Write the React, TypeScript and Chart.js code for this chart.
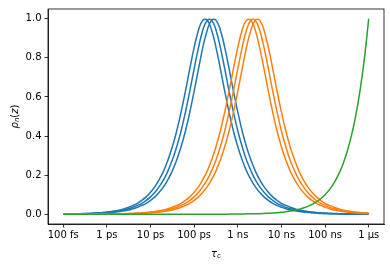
import React, { useEffect, useRef } from 'react';
import { Chart, registerables } from 'chart.js';

Chart.register(...registerables);

// correlation time grid (s), 10 points per decade from 100 fs to 1 µs
const tau = [
  1e-13, 1.26e-13, 1.58e-13, 2e-13, 2.51e-13, 3.16e-13, 3.98e-13, 5.01e-13, 6.31e-13, 7.94e-13,
  1e-12, 1.26e-12, 1.58e-12, 2e-12, 2.51e-12, 3.16e-12, 3.98e-12, 5.01e-12, 6.31e-12, 7.94e-12,
  1e-11, 1.26e-11, 1.58e-11, 2e-11, 2.51e-11, 3.16e-11, 3.98e-11, 5.01e-11, 6.31e-11, 7.94e-11,
  1e-10, 1.26e-10, 1.58e-10, 2e-10, 2.51e-10, 3.16e-10, 3.98e-10, 5.01e-10, 6.31e-10, 7.94e-10,
  1e-9, 1.26e-9, 1.58e-9, 2e-9, 2.51e-9, 3.16e-9, 3.98e-9, 5.01e-9, 6.31e-9, 7.94e-9,
  1e-8, 1.26e-8, 1.58e-8, 2e-8, 2.51e-8, 3.16e-8, 3.98e-8, 5.01e-8, 6.31e-8, 7.94e-8,
  1e-7, 1.26e-7, 1.58e-7, 2e-7, 2.51e-7, 3.16e-7, 3.98e-7, 5.01e-7, 6.31e-7, 7.94e-7,
  1e-6,
];

const blue1 = [
  0.001, 0.001, 0.002, 0.002, 0.003, 0.004, 0.004, 0.006, 0.007, 0.009, 0.011, 0.014, 0.018, 0.022, 0.028, 0.036, 0.045, 0.056, 0.071, 0.089, 0.112, 0.141, 0.177, 0.222, 0.277, 0.345, 0.426, 0.522, 0.63, 0.745, 0.854, 0.943, 0.993,
  0.993, 0.943, 0.854, 0.745, 0.63, 0.522, 0.426, 0.345, 0.277, 0.222, 0.177, 0.141, 0.112, 0.089, 0.071, 0.056, 0.045, 0.036, 0.028, 0.022, 0.018, 0.014, 0.011, 0.009, 0.007, 0.006, 0.004, 0.004, 0.003, 0.002, 0.002, 0.001, 0.001, 0.001, 0.001, 0.001, 0, 0,
];
const blue2 = [
  0.001, 0.001, 0.001, 0.002, 0.002, 0.003, 0.004, 0.004, 0.006, 0.007, 0.009, 0.011, 0.014, 0.018, 0.022, 0.028, 0.036, 0.045, 0.056, 0.071, 0.089, 0.112, 0.141, 0.177, 0.222, 0.277, 0.345, 0.426, 0.522, 0.63, 0.745, 0.854, 0.943, 0.993,
  0.993, 0.943, 0.854, 0.745, 0.63, 0.522, 0.426, 0.345, 0.277, 0.222, 0.177, 0.141, 0.112, 0.089, 0.071, 0.056, 0.045, 0.036, 0.028, 0.022, 0.018, 0.014, 0.011, 0.009, 0.007, 0.006, 0.004, 0.004, 0.003, 0.002, 0.002, 0.001, 0.001, 0.001, 0.001, 0.001, 0,
];
const blue3 = [
  0.001, 0.001, 0.001, 0.001, 0.002, 0.002, 0.003, 0.004, 0.004, 0.006, 0.007, 0.009, 0.011, 0.014, 0.018, 0.022, 0.028, 0.036, 0.045, 0.056, 0.071, 0.089, 0.112, 0.141, 0.177, 0.222, 0.277, 0.345, 0.426, 0.522, 0.63, 0.745, 0.854, 0.943, 0.993,
  0.993, 0.943, 0.854, 0.745, 0.63, 0.522, 0.426, 0.345, 0.277, 0.222, 0.177, 0.141, 0.112, 0.089, 0.071, 0.056, 0.045, 0.036, 0.028, 0.022, 0.018, 0.014, 0.011, 0.009, 0.007, 0.006, 0.004, 0.004, 0.003, 0.002, 0.002, 0.001, 0.001, 0.001, 0.001, 0.001,
];
const orange1 = [
  0, 0, 0, 0, 0, 0, 0, 0.001, 0.001, 0.001, 0.001, 0.001, 0.002, 0.002, 0.003, 0.004, 0.004, 0.006, 0.007, 0.009, 0.011, 0.014, 0.018, 0.022, 0.028, 0.036, 0.045, 0.056, 0.071, 0.089, 0.112, 0.141, 0.177, 0.222, 0.277, 0.345, 0.426, 0.522, 0.63, 0.745, 0.854, 0.943, 0.993,
  0.993, 0.943, 0.854, 0.745, 0.63, 0.522, 0.426, 0.345, 0.277, 0.222, 0.177, 0.141, 0.112, 0.089, 0.071, 0.056, 0.045, 0.036, 0.028, 0.022, 0.018, 0.014, 0.011, 0.009, 0.007, 0.006, 0.004, 0.004,
];
const orange2 = [
  0, 0, 0, 0, 0, 0, 0, 0, 0.001, 0.001, 0.001, 0.001, 0.001, 0.002, 0.002, 0.003, 0.004, 0.004, 0.006, 0.007, 0.009, 0.011, 0.014, 0.018, 0.022, 0.028, 0.036, 0.045, 0.056, 0.071, 0.089, 0.112, 0.141, 0.177, 0.222, 0.277, 0.345, 0.426, 0.522, 0.63, 0.745, 0.854, 0.943, 0.993,
  0.993, 0.943, 0.854, 0.745, 0.63, 0.522, 0.426, 0.345, 0.277, 0.222, 0.177, 0.141, 0.112, 0.089, 0.071, 0.056, 0.045, 0.036, 0.028, 0.022, 0.018, 0.014, 0.011, 0.009, 0.007, 0.006, 0.004,
];
const orange3 = [
  0, 0, 0, 0, 0, 0, 0, 0, 0, 0.001, 0.001, 0.001, 0.001, 0.001, 0.002, 0.002, 0.003, 0.004, 0.004, 0.006, 0.007, 0.009, 0.011, 0.014, 0.018, 0.022, 0.028, 0.036, 0.045, 0.056, 0.071, 0.089, 0.112, 0.141, 0.177, 0.222, 0.277, 0.345, 0.426, 0.522, 0.63, 0.745, 0.854, 0.943, 0.993,
  0.993, 0.943, 0.854, 0.745, 0.63, 0.522, 0.426, 0.345, 0.277, 0.222, 0.177, 0.141, 0.112, 0.089, 0.071, 0.056, 0.045, 0.036, 0.028, 0.022, 0.018, 0.014, 0.011, 0.009, 0.007, 0.006,
];
const green = [
  0, 0, 0, 0, 0, 0, 0, 0, 0, 0, 0, 0, 0, 0, 0, 0, 0, 0, 0, 0,
  0, 0, 0, 0, 0, 0, 0, 0, 0, 0, 0, 0, 0, 0, 0, 0, 0, 0,
  0.001, 0.001, 0.001, 0.001, 0.002, 0.002, 0.003, 0.003, 0.004, 0.005, 0.006, 0.008, 0.01, 0.013, 0.016, 0.02, 0.025, 0.032, 0.04, 0.05, 0.063, 0.079, 0.1, 0.126, 0.158, 0.2, 0.251, 0.316, 0.398, 0.501, 0.631, 0.794, 1,
];

const xTickValues = [1e-13, 1e-12, 1e-11, 1e-10, 1e-9, 1e-8, 1e-7, 1e-6];
const xTickLabels = ['100 fs', '1 ps', '10 ps', '100 ps', '1 ns', '10 ns', '100 ns', '1 \u03bcs'];
const yTickValues = [0, 0.2, 0.4, 0.6, 0.8, 1.0];
const X_MIN = 4.47e-14;
const X_MAX = 2.24e-6;
const Y_MIN = -0.05;
const Y_MAX = 1.05;

const BLUE = '#1f77b4';
const ORANGE = '#ff7f0e';
const GREEN = '#2ca02c';

const FONT = '"DejaVu Sans", sans-serif';

const series = [
  { values: blue1, color: BLUE, order: 3 },
  { values: blue2, color: BLUE, order: 3 },
  { values: blue3, color: BLUE, order: 3 },
  { values: orange1, color: ORANGE, order: 2 },
  { values: orange2, color: ORANGE, order: 2 },
  { values: orange3, color: ORANGE, order: 2 },
  { values: green, color: GREEN, order: 1 },
];

const framePlugin = {
  id: 'frameAndTitles',
  afterDraw(chart: any) {
    const { ctx, chartArea: a } = chart;
    ctx.save();
    ctx.strokeStyle = '#000';
    ctx.lineWidth = 0.8;
    ctx.strokeRect(a.left, a.top, a.right - a.left, a.bottom - a.top);

    ctx.fillStyle = '#000';
    ctx.textBaseline = 'alphabetic';
    ctx.textAlign = 'left';
    // x-axis title: tau_c
    ctx.font = `italic 10px ${FONT}`;
    const wTau = ctx.measureText('\u03c4').width;
    ctx.font = `7px ${FONT}`;
    const wC = ctx.measureText('c').width;
    const cx = (a.left + a.right) / 2;
    let x0 = cx - (wTau + wC) / 2;
    ctx.font = `italic 10px ${FONT}`;
    ctx.fillText('\u03c4', x0, 256.5);
    ctx.font = `7px ${FONT}`;
    ctx.fillText('c', x0 + wTau, 258);

    // y-axis title: rho_n(z)
    const cy = (a.top + a.bottom) / 2;
    ctx.translate(17.5, cy);
    ctx.rotate(-Math.PI / 2);
    ctx.font = `italic 10px ${FONT}`;
    const wRho = ctx.measureText('\u03c1').width;
    ctx.font = `italic 7px ${FONT}`;
    const wN = ctx.measureText('n').width;
    ctx.font = `10px ${FONT}`;
    const wP1 = ctx.measureText('(').width;
    ctx.font = `italic 10px ${FONT}`;
    const wZ = ctx.measureText('z').width;
    ctx.font = `10px ${FONT}`;
    const wP2 = ctx.measureText(')').width;
    const total = wRho + wN + wP1 + wZ + wP2;
    let px = -total / 2;
    ctx.font = `italic 10px ${FONT}`;
    ctx.fillText('\u03c1', px, 0); px += wRho;
    ctx.font = `italic 7px ${FONT}`;
    ctx.fillText('n', px, 1.5); px += wN;
    ctx.font = `10px ${FONT}`;
    ctx.fillText('(', px, 0); px += wP1;
    ctx.font = `italic 10px ${FONT}`;
    ctx.fillText('z', px, 0); px += wZ;
    ctx.font = `10px ${FONT}`;
    ctx.fillText(')', px, 0);
    ctx.restore();
  },
};

export default function App() {
  const canvasRef = useRef<HTMLCanvasElement | null>(null);

  useEffect(() => {
    document.body.style.margin = '0';
    const canvas = canvasRef.current;
    if (!canvas) return;
    const chart = new Chart(canvas, {
      type: 'line',
      data: {
        datasets: series.map((s) => ({
          data: tau.map((t, i) => ({ x: t, y: s.values[i] })),
          borderColor: s.color,
          backgroundColor: s.color,
          borderWidth: 1.5,
          pointRadius: 0,
          tension: 0.4,
          fill: false,
          order: s.order,
        })),
      },
      options: {
        animation: false,
        responsive: false,
        devicePixelRatio: 1,
        events: [],
        layout: { padding: { top: 7, right: 6, left: 0, bottom: 0 } },
        plugins: {
          legend: { display: false },
          tooltip: { enabled: false },
        },
        scales: {
          x: {
            type: 'logarithmic',
            min: X_MIN,
            max: X_MAX,
            afterBuildTicks: (scale: any) => {
              scale.ticks = xTickValues.map((v) => ({ value: v }));
            },
            afterFit: (scale: any) => {
              scale.height = 44;
            },
            ticks: {
              autoSkip: false,
              maxRotation: 0,
              minRotation: 0,
              padding: 2,
              color: '#000',
              font: { family: FONT, size: 10 },
              callback: (_v: any, i: number) => xTickLabels[i],
            },
            grid: {
              display: true,
              drawOnChartArea: false,
              drawTicks: true,
              tickLength: 3.5,
              tickWidth: 0.8,
              tickColor: '#000',
              color: '#000',
            },
            border: { display: true, color: '#000', width: 0.8 },
          },
          y: {
            type: 'linear',
            min: Y_MIN,
            max: Y_MAX,
            afterBuildTicks: (scale: any) => {
              scale.ticks = yTickValues.map((v) => ({ value: v }));
            },
            afterFit: (scale: any) => {
              scale.width = 48;
            },
            ticks: {
              padding: 3,
              color: '#000',
              font: { family: FONT, size: 10 },
              callback: (v: any) => Number(v).toFixed(1),
            },
            grid: {
              display: true,
              drawOnChartArea: false,
              drawTicks: true,
              tickLength: 3.5,
              tickWidth: 0.8,
              tickColor: '#000',
              color: '#000',
            },
            border: { display: true, color: '#000', width: 0.8 },
          },
        },
      },
      plugins: [framePlugin],
    });
    return () => chart.destroy();
  }, []);

  return (
    <div style={{ width: 390, height: 268, background: '#fff' }}>
      <canvas ref={canvasRef} width={390} height={268} style={{ width: 390, height: 268, display: 'block' }} />
    </div>
  );
}
